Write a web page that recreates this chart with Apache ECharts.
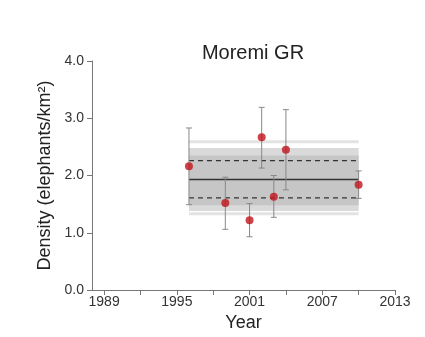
<!DOCTYPE html>
<html><head><meta charset="utf-8">
<script src="https://cdn.jsdelivr.net/npm/echarts@6/dist/echarts.min.js"></script>
<style>html,body{margin:0;padding:0;background:#fff}#c{width:425px;height:337px}</style>
</head><body><div id="c"></div>
<script>
var years = [1996, 1999, 2001, 2002, 2003, 2004, 2010];
var density = [2.16, 1.52, 1.22, 2.67, 1.63, 2.45, 1.84];
var errLow = [1.49, 1.06, 0.93, 2.13, 1.27, 1.75, 1.60];
var errHigh = [2.83, 1.97, 1.51, 3.19, 2.00, 3.15, 2.08];
var bandYears = [1996, 2010];
var meanValue = 1.93;
var ciValues = [1.61, 2.26];
var innerBand = [1.48, 2.35];
var middleBand = [1.38, 2.48];
var outerLines = [1.33, 2.59];
var xTicks = [1989, 1992, 1995, 1998, 2001, 2004, 2007, 2010, 2013];
var xLabels = [1989, 1995, 2001, 2007, 2013];

var font = 'Liberation Sans, Arial, sans-serif';
var chart = echarts.init(document.getElementById('c'));

function hline(v, style) {
  return { type: 'line', data: [[bandYears[0], v], [bandYears[1], v]], symbol: 'none', silent: true,
    lineStyle: style, z: 3 };
}
function band(range, color, z) {
  return { type: 'custom', silent: true, z: z, data: [[bandYears[0], bandYears[1], range[0], range[1]]],
    renderItem: function (params, api) {
      var p0 = api.coord([api.value(0), api.value(3)]);
      var p1 = api.coord([api.value(1), api.value(2)]);
      return { type: 'rect', shape: { x: p0[0], y: p0[1], width: p1[0] - p0[0], height: p1[1] - p0[1] },
        style: { fill: color } };
    } };
}

var errData = years.map(function (y, i) { return [y, errLow[i], errHigh[i]]; });

chart.setOption({
  animation: false,
  title: { text: 'Moremi GR', left: 248, top: 38, textAlign: 'center',
    textStyle: { fontFamily: font, fontSize: 20, fontWeight: 'normal', color: '#222' } },
  grid: { left: 92, right: 30, top: 61, bottom: 44 },
  xAxis: { type: 'value', min: 1988, max: 2013, name: 'Year', nameLocation: 'middle', nameGap: 24,
    nameTextStyle: { fontFamily: font, fontSize: 18, color: '#222' },
    axisLine: { lineStyle: { color: '#777' } },
    axisTick: { show: true, length: 5, customValues: xTicks, lineStyle: { color: '#777' } },
    axisLabel: { customValues: xLabels, fontFamily: font, fontSize: 14, color: '#333', margin: 5,
      formatter: function (v) { return String(v); } },
    splitLine: { show: false } },
  yAxis: { type: 'value', min: 0, max: 4, interval: 1, name: 'Density (elephants/km²)',
    nameLocation: 'middle', nameGap: 33,
    nameTextStyle: { fontFamily: font, fontSize: 18, color: '#222' },
    axisLine: { show: true, lineStyle: { color: '#777' } },
    axisTick: { show: true, length: 5, lineStyle: { color: '#777' } },
    axisLabel: { fontFamily: font, fontSize: 14, color: '#333', margin: 8,
      formatter: function (v) { return v.toFixed(1); } },
    splitLine: { show: false } },
  series: [
    hline(outerLines[1], { color: '#e3e3e3', width: 3 }),
    hline(outerLines[0], { color: '#e3e3e3', width: 3 }),
    band(middleBand, '#dadada', 1),
    band(innerBand, '#c6c6c6', 2),
    hline(meanValue, { color: '#333', width: 1.3 }),
    hline(ciValues[0], { color: '#333', width: 1.3, type: [5, 4] }),
    hline(ciValues[1], { color: '#333', width: 1.3, type: [5, 4] }),
    { type: 'custom', z: 5, silent: true, data: errData,
      renderItem: function (params, api) {
        var lo = api.coord([api.value(0), api.value(1)]);
        var hi = api.coord([api.value(0), api.value(2)]);
        var w = 3;
        var st = { stroke: '#888', lineWidth: 1 };
        return { type: 'group', children: [
          { type: 'line', shape: { x1: lo[0], y1: lo[1], x2: hi[0], y2: hi[1] }, style: st },
          { type: 'line', shape: { x1: lo[0] - w, y1: lo[1], x2: lo[0] + w, y2: lo[1] }, style: st },
          { type: 'line', shape: { x1: hi[0] - w, y1: hi[1], x2: hi[0] + w, y2: hi[1] }, style: st }
        ] };
      } },
    { type: 'scatter', z: 6, symbolSize: 8, itemStyle: { color: '#c0141c' },
      data: years.map(function (y, i) { return [y, density[i]]; }) }
  ]
});
</script></body></html>
